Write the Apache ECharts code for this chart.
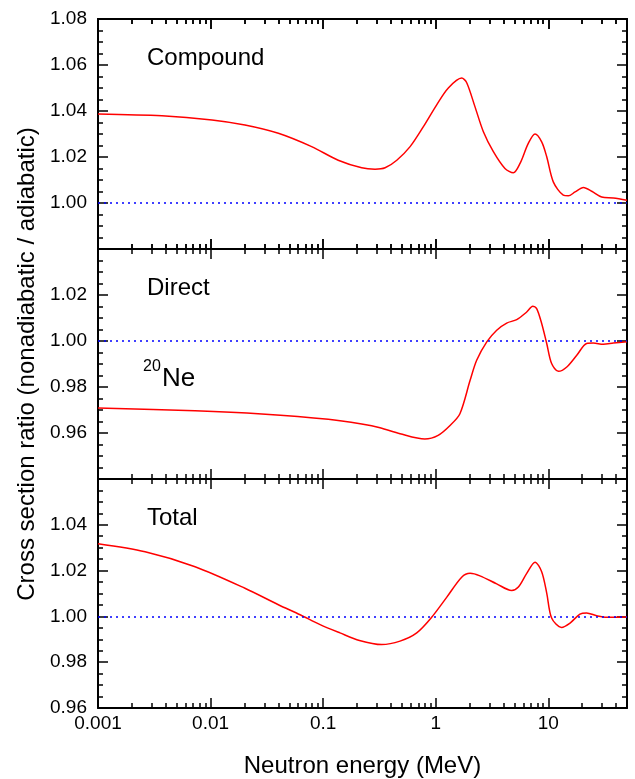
<!DOCTYPE html>
<html>
<head>
<meta charset="utf-8">
<script src="https://cdn.jsdelivr.net/npm/echarts@6/dist/echarts.min.js"></script>
<style>
html,body{margin:0;padding:0;background:#fff;}
#wrap{position:relative;width:635px;height:779px;background:#fff;}
.panel{position:absolute;left:0;top:0;width:635px;height:779px;}
</style>
</head>
<body>
<div id="wrap">
  <div class="panel" id="p0"></div>
  <div class="panel" id="p1"></div>
  <div class="panel" id="p2"></div>
  <div class="panel" id="p3"></div>
</div>
<script>
// ---- data ----
var compoundE = [0.001, 0.0037, 0.0103, 0.0202, 0.040, 0.079, 0.136, 0.22, 0.289, 0.355, 0.451, 0.592, 0.777, 1.02, 1.294, 1.70, 1.88, 2.23, 2.65, 3.25, 4.12, 4.89, 5.61, 6.64, 7.62, 8.73, 9.68, 11.07, 13.58, 15.05, 17.3, 20.5, 24.3, 29.8, 37.8, 50];
var compoundV = [1.0387, 1.0379, 1.0361, 1.0339, 1.0303, 1.0245, 1.0186, 1.0153, 1.0147, 1.0153, 1.0186, 1.0245, 1.0332, 1.0427, 1.0500, 1.0543, 1.0524, 1.0419, 1.0310, 1.0223, 1.0150, 1.0131, 1.0172, 1.0259, 1.0300, 1.0266, 1.0201, 1.0092, 1.0034, 1.0031, 1.0048, 1.0067, 1.0051, 1.0026, 1.0022, 1.0012];

var directE = [0.001, 0.00728, 0.0285, 0.111, 0.22, 0.32, 0.482, 0.80, 1.05, 1.34, 1.64, 2.02, 2.31, 2.84, 3.48, 4.27, 5.24, 6.43, 7.27, 7.88, 8.73, 9.68, 10.7, 12.3, 14.6, 17.9, 21.9, 25.1, 30.8, 37.8, 50];
var directV = [0.9709, 0.9697, 0.9683, 0.9660, 0.9639, 0.9623, 0.9597, 0.9574, 0.9590, 0.9633, 0.9684, 0.9829, 0.9916, 0.9996, 1.0047, 1.0078, 1.0093, 1.0126, 1.0151, 1.0141, 1.0076, 0.9989, 0.9902, 0.9868, 0.9887, 0.9938, 0.9989, 0.9991, 0.9986, 0.9991, 0.9997];

var totalE = [0.001, 0.00262, 0.00728, 0.0202, 0.040, 0.0624, 0.094, 0.141, 0.21, 0.331, 0.482, 0.678, 0.92, 1.25, 1.70, 2.02, 2.47, 3.48, 4.73, 5.42, 6.43, 7.62, 8.73, 9.68, 10.7, 13.1, 15.6, 19.1, 21.9, 26.9, 33.0, 50];
var totalV = [1.0317, 1.0282, 1.0217, 1.0123, 1.0051, 1.0007, 0.9964, 0.9928, 0.9895, 0.9877, 0.9892, 0.9928, 0.9996, 1.0083, 1.0171, 1.0188, 1.0177, 1.0142, 1.0113, 1.0128, 1.0188, 1.0237, 1.0195, 1.0102, 0.9993, 0.9952, 0.9971, 1.0010, 1.0015, 1.0003, 0.9996, 0.9997];

var refV = [1.0];

var xRange = [0.001, 50];
var xMinorTicks = [0.002, 0.003, 0.004, 0.005, 0.006, 0.007, 0.008, 0.009,
                   0.02, 0.03, 0.04, 0.05, 0.06, 0.07, 0.08, 0.09,
                   0.2, 0.3, 0.4, 0.5, 0.6, 0.7, 0.8, 0.9,
                   2, 3, 4, 5, 6, 7, 8, 9, 20, 30, 40];
var panelNames = ['Compound', 'Direct', 'Total'];
var yRanges = [[0.98, 1.08], [0.94, 1.04], [0.96, 1.06]];
var yInterval = 0.02;
var xTitle = 'Neutron energy (MeV)';
var yTitle = 'Cross section ratio (nonadiabatic / adiabatic)';
var nuclideMass = '20';
var nuclideSymbol = 'Ne';

// ---- chart ----
var FONT = '"Liberation Sans", Arial, sans-serif';
var gridTop = [19, 249, 479];
var gridH = 230;
var curves = [[compoundE, compoundV], [directE, directV], [totalE, totalV]];

function axLine() { return {color: '#000', width: 2}; }
function tkStyle() { return {color: '#000', width: 1.5}; }
function fmtX(v) { return String(parseFloat(Number(v).toPrecision(6))); }
function fmtY(v) { return v.toFixed(2); }

function makeXAxes(i) {
  return [
    { // bottom, major
      type: 'log', min: xRange[0], max: xRange[1], position: 'bottom',
      axisLine: {show: true, onZero: false, lineStyle: axLine()},
      axisTick: {show: true, inside: true, length: 10, lineStyle: tkStyle()},
      axisLabel: {show: i === 2, fontSize: 19, color: '#000', fontFamily: FONT, margin: 6,
                  showMaxLabel: false, formatter: fmtX},
      splitLine: {show: false},
      name: i === 2 ? xTitle : '', nameLocation: 'middle', nameGap: 46,
      nameTextStyle: {fontSize: 24, color: '#000', fontFamily: FONT}
    },
    { // bottom, minor
      type: 'log', min: xRange[0], max: xRange[1], position: 'bottom',
      axisLine: {show: false, onZero: false},
      axisTick: {show: true, inside: true, length: 5, lineStyle: tkStyle(), customValues: xMinorTicks},
      axisLabel: {show: false}, splitLine: {show: false}
    },
    { // top, major
      type: 'log', min: xRange[0], max: xRange[1], position: 'top',
      axisLine: {show: true, onZero: false, lineStyle: axLine()},
      axisTick: {show: true, inside: true, length: 10, lineStyle: tkStyle()},
      axisLabel: {show: false}, splitLine: {show: false}
    },
    { // top, minor
      type: 'log', min: xRange[0], max: xRange[1], position: 'top',
      axisLine: {show: false, onZero: false},
      axisTick: {show: true, inside: true, length: 5, lineStyle: tkStyle(), customValues: xMinorTicks},
      axisLabel: {show: false}, splitLine: {show: false}
    }
  ];
}

function panelOption(i) {
  var yAxes = [
    {
      type: 'value', min: yRanges[i][0], max: yRanges[i][1], interval: yInterval, position: 'left',
      axisLine: {show: true, onZero: false, lineStyle: axLine()},
      axisTick: {show: true, inside: true, length: 10, lineStyle: tkStyle()},
      minorTick: {show: true, splitNumber: 4, length: 5, lineStyle: tkStyle()},
      axisLabel: {show: true, fontSize: 19, color: '#000', fontFamily: FONT, margin: 11,
                  showMinLabel: i === 2, showMaxLabel: i === 0, formatter: fmtY},
      splitLine: {show: false},
      name: i === 1 ? yTitle : '', nameLocation: 'middle', nameGap: 58,
      nameTextStyle: {fontSize: 24, color: '#000', fontFamily: FONT}
    },
    {
      type: 'value', min: yRanges[i][0], max: yRanges[i][1], interval: yInterval, position: 'right',
      axisLine: {show: true, onZero: false, lineStyle: axLine()},
      axisTick: {show: true, inside: true, length: 10, lineStyle: tkStyle()},
      minorTick: {show: true, splitNumber: 4, length: 5, lineStyle: tkStyle()},
      axisLabel: {show: false}, splitLine: {show: false}
    }
  ];
  var series = [{
    type: 'line', xAxisIndex: 0, yAxisIndex: 0,
    data: curves[i][0].map(function (e, k) { return [e, curves[i][1][k]]; }),
    showSymbol: false, symbol: 'none', smooth: 0.3,
    lineStyle: {color: '#ff0000', width: 1.5},
    markLine: {
      silent: true, symbol: 'none', label: {show: false},
      lineStyle: {color: '#0000ff', width: 1.5, type: [2, 4]},
      data: [{yAxis: refV[0]}]
    }
  }];

  var titleStyle = {fontSize: 24, fontWeight: 'normal', color: '#000', fontFamily: FONT};
  var titles = [{text: panelNames[i], left: 147, top: gridTop[i] + 27, padding: 0, textStyle: titleStyle}];
  if (i === 1) {
    titles.push({text: nuclideMass, left: 143, top: 359, padding: 0,
                 textStyle: {fontSize: 16, fontWeight: 'normal', color: '#000', fontFamily: FONT}});
    titles.push({text: nuclideSymbol, left: 162, top: 366, padding: 0,
                 textStyle: {fontSize: 26, fontWeight: 'normal', color: '#000', fontFamily: FONT}});
  }
  return {
    animation: false,
    title: titles,
    grid: [{left: 98, right: 8, top: gridTop[i], height: gridH}],
    xAxis: makeXAxes(i),
    yAxis: yAxes,
    series: series
  };
}

// Frame-only overlay for the top panel: its energy-axis ticks on a plain linear helper axis
function frameOption(i) {
  return {
    animation: false,
    grid: [{left: 98, right: 8, top: gridTop[i], height: gridH}],
    xAxis: makeXAxes(0),
    yAxis: [{type: 'value', min: 0, max: 1, show: false}],
    series: []
  };
}

for (var i = 0; i < 3; i++) {
  try {
    var ch = echarts.init(document.getElementById('p' + i), null, {renderer: 'canvas'});
    ch.setOption(panelOption(i));
  } catch (e) {}
}
try {
  var fr = echarts.init(document.getElementById('p3'), null, {renderer: 'canvas'});
  fr.setOption(frameOption(0));
} catch (e) {}
</script>
</body>
</html>
